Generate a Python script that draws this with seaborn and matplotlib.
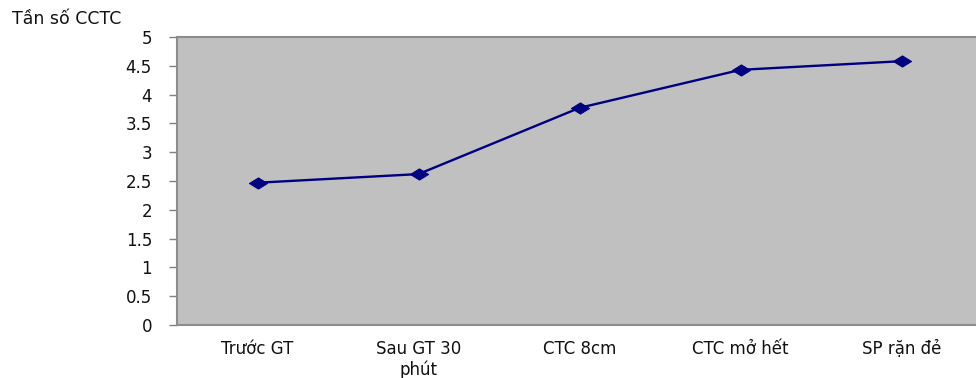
import matplotlib
matplotlib.use("Agg")
import matplotlib.pyplot as plt
import seaborn as sns
import pandas as pd
import numpy as np

# Contraction frequency at each stage of labour
stages = ["Trước GT", "Sau GT 30\nphút", "CTC 8cm", "CTC mở hết", "SP rặn đẻ"]
frequency = [2.47, 2.62, 3.77, 4.43, 4.58]
y_ticks = [0, 0.5, 1, 1.5, 2, 2.5, 3, 3.5, 4, 4.5, 5]
y_tick_labels = ["0", "0.5", "1", "1.5", "2", "2.5", "3", "3.5", "4", "4.5", "5"]
y_title = "Tần số CCTC"

sns.set_style("white")
plt.rcParams["font.family"] = ["DejaVu Sans"]

df = pd.DataFrame({"stage": stages, "freq": frequency})

fig = plt.figure(figsize=(9.76, 3.78), dpi=100)
ax = fig.add_axes([177 / 976, 53 / 378, 805 / 976, 288 / 378])
ax.set_facecolor("#C0C0C0")

# wide, flat diamond marker
diamond = [(-1, 0), (0, 0.62), (1, 0), (0, -0.62), (-1, 0)]
sns.lineplot(data=df, x="stage", y="freq", ax=ax, color="#000080",
             linewidth=1.7, marker=diamond, markersize=13,
             markeredgecolor="#000080", markerfacecolor="#000080", sort=False)

ax.set_xlim(-0.5, len(stages) - 0.5)
ax.set_ylim(0, 5)
ax.set_yticks(y_ticks)
ax.set_yticklabels(y_tick_labels)
ax.set_xticks(range(len(stages)))
ax.set_xticklabels(stages, ha="center", linespacing=1.15)
ax.set_xticks(np.arange(-0.5, len(stages), 1), minor=True)

ax.tick_params(axis="x", which="major", length=0, pad=11, labelsize=12, colors="#111111")
ax.tick_params(axis="x", which="minor", length=4, width=1, color="#808080")
ax.tick_params(axis="y", which="major", length=6, width=1, color="#808080",
               pad=12, labelsize=12, labelcolor="#111111", left=True)

for side in ["top", "left", "bottom", "right"]:
    ax.spines[side].set_color("#8c8c8c")
    ax.spines[side].set_linewidth(1.5)

ax.set_xlabel("")
ax.set_ylabel("")
fig.text(12 / 976, 1 - 19 / 378, y_title, fontsize=12.5, color="#111111",
         ha="left", va="center")

fig.savefig("out.png", dpi=100)
